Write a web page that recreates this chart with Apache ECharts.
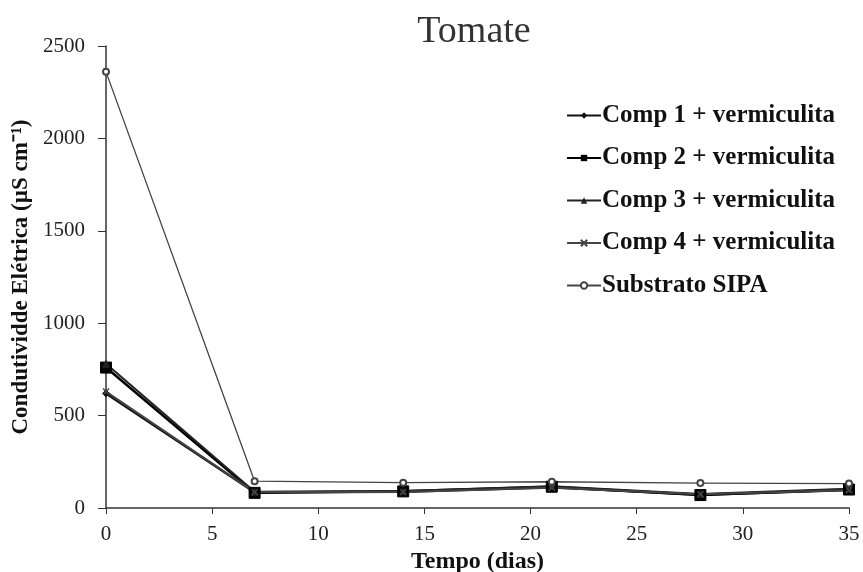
<!DOCTYPE html>
<html>
<head>
<meta charset="utf-8">
<script src="https://cdn.jsdelivr.net/npm/echarts@6/dist/echarts.min.js"></script>
<style>
  html, body { margin: 0; padding: 0; background: #fff; }
  #chart { width: 863px; height: 572px; }
</style>
</head>
<body>
<div id="chart"></div>
<script>
// dias
const days = [0, 7, 14, 21, 28, 35]
// valores
const comp1 = [620, 85, 88, 112, 72, 98]
const comp2 = [760, 82, 90, 115, 70, 100]
const comp3 = [780, 88, 92, 118, 76, 104]
const comp4 = [630, 86, 86, 110, 74, 96]
const sipa = [2360, 145, 137, 142, 135, 132]

const seriesNames = ['Comp 1 + vermiculita', 'Comp 2 + vermiculita', 'Comp 3 + vermiculita', 'Comp 4 + vermiculita', 'Substrato SIPA']
const xPath = 'path://M0,0L10,10M10,0L0,10'

const chart = echarts.init(document.getElementById('chart'))

function pairs (vals) {
  return days.map((d, i) => [d, vals[i]])
}

function mk (name, vals, symbol, size, color, width) {
  return {
    name: name,
    type: 'line',
    data: pairs(vals),
    symbol: symbol,
    symbolSize: size,
    itemStyle: { color: color, borderColor: color },
    lineStyle: { color: color, width: width },
    emphasis: { disabled: true }
  }
}

const serif = 'Liberation Serif'

chart.setOption({
  animation: false,
  title: {
    text: 'Tomate',
    left: 469,
    top: 8,
    textAlign: 'center',
    textStyle: { fontFamily: serif, fontWeight: 'normal', fontSize: 38, color: '#333' }
  },
  legend: {
    orient: 'vertical',
    right: 23,
    top: 98,
    itemGap: 17.5,
    itemWidth: 34,
    itemHeight: 8,
    data: seriesNames,
    textStyle: { fontFamily: serif, fontWeight: 'bold', fontSize: 25, color: '#111', padding: [0, 0, 0, -4] }
  },
  grid: { left: 106, right: 14, top: 46, bottom: 64, outerBoundsMode: 'none', containLabel: false },
  xAxis: {
    type: 'value',
    min: 0,
    max: 35,
    interval: 5,
    name: 'Tempo (dias)',
    nameLocation: 'middle',
    nameGap: 29,
    nameTextStyle: { fontFamily: serif, fontWeight: 'bold', fontSize: 24, color: '#111' },
    axisLine: { lineStyle: { color: '#333', width: 1.5 } },
    axisTick: { show: true, length: 6, lineStyle: { color: '#333' } },
    splitLine: { show: false },
    axisLabel: { fontFamily: serif, fontSize: 21, color: '#222', margin: 16, formatter: v => String(v) }
  },
  yAxis: {
    type: 'value',
    min: 0,
    max: 2500,
    interval: 500,
    name: 'Condutividde Elétrica (µS cm⁻¹)',
    nameLocation: 'middle',
    nameGap: 73,
    nameTextStyle: { fontFamily: serif, fontWeight: 'bold', fontSize: 23, color: '#111' },
    axisLine: { show: true, lineStyle: { color: '#333', width: 1.5 } },
    axisTick: { show: true, length: 8, lineStyle: { color: '#333' } },
    splitLine: { show: false },
    axisLabel: { fontFamily: serif, fontSize: 21, color: '#222', margin: 21, formatter: v => String(v) }
  },
  series: [
    mk(seriesNames[0], comp1, 'diamond', 7, '#111', 2.5),
    mk(seriesNames[1], comp2, 'rect', 11, '#000', 2.5),
    mk(seriesNames[2], comp3, 'triangle', 7, '#222', 2),
    Object.assign(mk(seriesNames[3], comp4, xPath, 6, '#444', 2), { itemStyle: { color: 'none', borderColor: '#444', borderWidth: 1.5 } }),
    mk(seriesNames[4], sipa, 'emptyCircle', 6, '#444', 1.3)
  ]
})
</script>
</body>
</html>
